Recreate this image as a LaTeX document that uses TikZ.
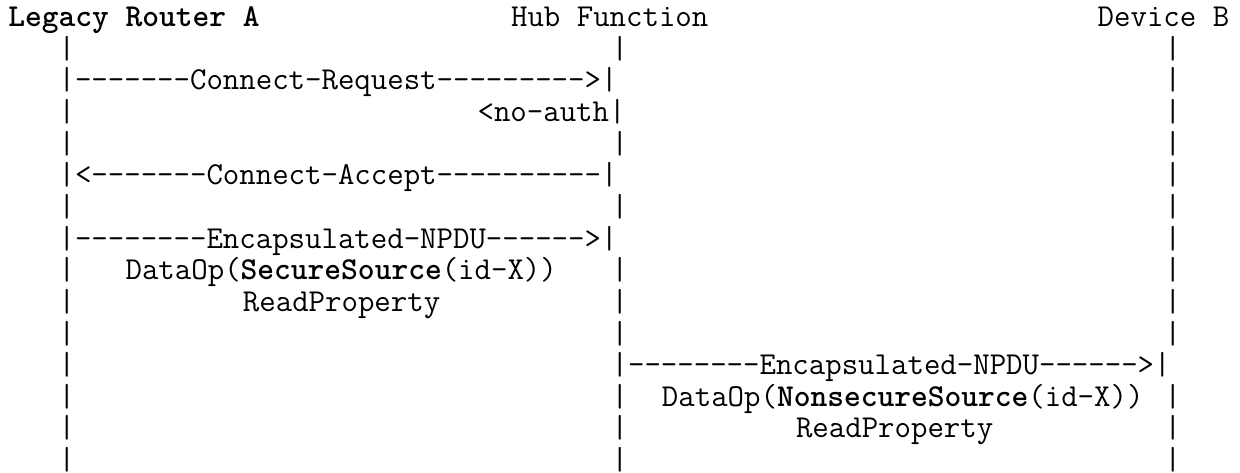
\documentclass[tikz,border=0pt]{standalone}
\usepackage{fontspec}
\tikzset{
  mono/.style={anchor=base west, inner sep=0pt, outer sep=0pt,
    font=\ttfamily\fontsize{23.94}{23.94}\selectfont, text=black}
}
\newcommand\mkseg[4]{\node[mono] (#1) at ({8.3+#2*16.76},{26.5+#3*31.65}) {#4};}
\begin{document}
\begin{tikzpicture}[x=0.75pt,y=-0.75pt]
\useasboundingbox (0,0) rectangle (1240,472);
% line 0: headers
\mkseg{hA}{0}{0}{\textbf{Legacy Router A}}
\mkseg{hH}{30}{0}{Hub Function}
\mkseg{hB}{65}{0}{Device B}
% line 1
\mkseg{a1}{3}{1}{|}\mkseg{h1}{36}{1}{|}\mkseg{b1}{69}{1}{|}
% line 2
\mkseg{m2}{3}{2}{|-------Connect-Request--------->|}\mkseg{b2}{69}{2}{|}
% line 3
\mkseg{a3}{3}{3}{|}\mkseg{n3}{28}{3}{<no-auth|}\mkseg{b3}{69}{3}{|}
% line 4
\mkseg{a4}{3}{4}{|}\mkseg{h4}{36}{4}{|}\mkseg{b4}{69}{4}{|}
% line 5
\mkseg{m5}{3}{5}{|<-------Connect-Accept----------|}\mkseg{b5}{69}{5}{|}
% line 6
\mkseg{a6}{3}{6}{|}\mkseg{h6}{36}{6}{|}\mkseg{b6}{69}{6}{|}
% line 7
\mkseg{m7}{3}{7}{|--------Encapsulated-NPDU------>|}\mkseg{b7}{69}{7}{|}
% line 8
\mkseg{a8}{3}{8}{|}\mkseg{t8}{7}{8}{DataOp(\textbf{SecureSource}(id-X))}\mkseg{h8}{36}{8}{|}\mkseg{b8}{69}{8}{|}
% line 9
\mkseg{a9}{3}{9}{|}\mkseg{t9}{14}{9}{ReadProperty}\mkseg{h9}{36}{9}{|}\mkseg{b9}{69}{9}{|}
% line 10
\mkseg{a10}{3}{10}{|}\mkseg{h10}{36}{10}{|}\mkseg{b10}{69}{10}{|}
% line 11
\mkseg{a11}{3}{11}{|}\mkseg{m11}{36}{11}{|--------Encapsulated-NPDU------>|}
% line 12
\mkseg{a12}{3}{12}{|}\mkseg{h12}{36}{12}{|}\mkseg{t12}{39}{12}{DataOp(\textbf{NonsecureSource}(id-X))}\mkseg{b12}{69}{12}{|}
% line 13
\mkseg{a13}{3}{13}{|}\mkseg{h13}{36}{13}{|}\mkseg{t13}{47}{13}{ReadProperty}\mkseg{b13}{69}{13}{|}
% line 14
\mkseg{a14}{3}{14}{|}\mkseg{h14}{36}{14}{|}\mkseg{b14}{69}{14}{|}
\end{tikzpicture}
\end{document}
